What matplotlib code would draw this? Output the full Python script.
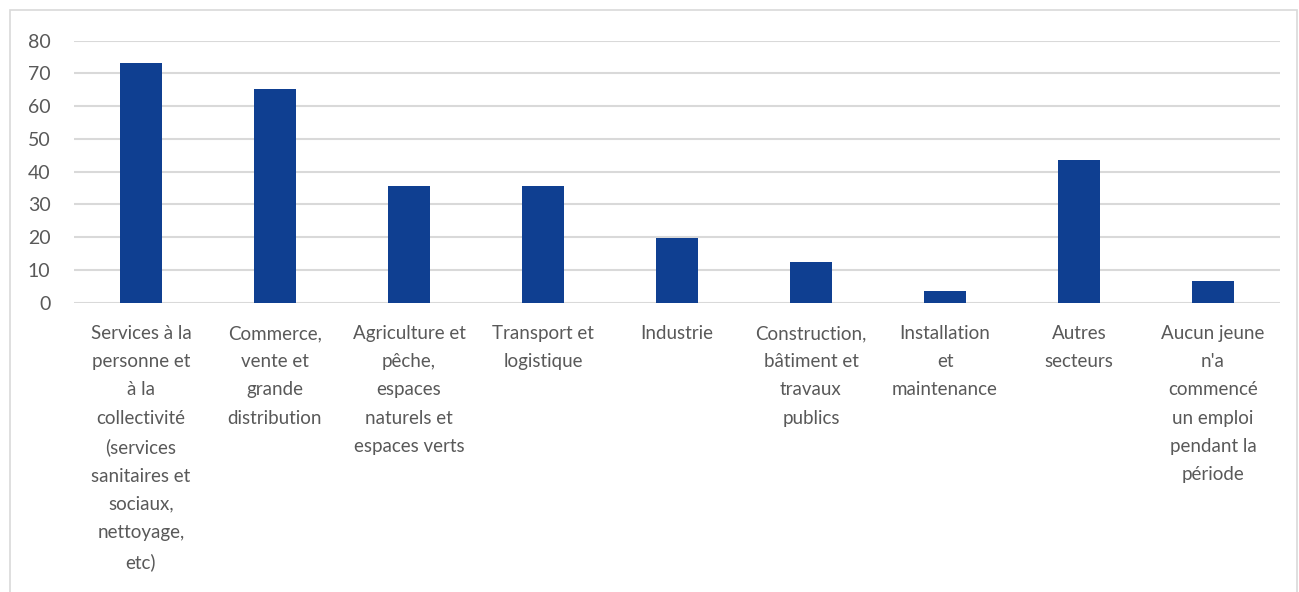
import matplotlib
matplotlib.use("Agg")
import matplotlib.pyplot as plt
from matplotlib.patches import Rectangle

# Sectors where young people started a job
categories = [
    "Services à la\npersonne et\nà la\ncollectivité\n(services\nsanitaires et\nsociaux,\nnettoyage,\netc)",
    "Commerce,\nvente et\ngrande\ndistribution",
    "Agriculture et\npêche,\nespaces\nnaturels et\nespaces verts",
    "Transport et\nlogistique",
    "Industrie",
    "Construction,\nbâtiment et\ntravaux\npublics",
    "Installation\net\nmaintenance",
    "Autres\nsecteurs",
    "Aucun jeune\nn'a\ncommencé\nun emploi\npendant la\npériode",
]
values = [73.1, 65.4, 35.7, 35.7, 19.9, 12.3, 3.5, 43.5, 6.6]
y_ticks = [0, 10, 20, 30, 40, 50, 60, 70, 80]

BAR = "#0F3F91"
GRID = "#D9D9D9"
LABEL = "#595959"

plt.rcParams["font.family"] = ["Lato", "DejaVu Sans"]

W, H = 1299, 592
fig = plt.figure(figsize=(W / 100, H / 100), dpi=100)
fig.patch.set_facecolor("white")

# thin outer frame of the chart area
fig.patches.append(Rectangle((10 / W, -0.1), (W - 12) / W, 1.1 - 10 / H,
                             transform=fig.transFigure, fill=False,
                             edgecolor=GRID, linewidth=1.2))

ax = fig.add_axes([74 / W, 1 - 302.7 / H, (1280 - 74) / W, (302.7 - 40.7) / H])
x = range(len(categories))
ax.bar(x, values, width=0.313, color=BAR, zorder=3)

ax.set_ylim(0, 80)
ax.set_xlim(-0.5, len(categories) - 0.5)
ax.set_yticks(y_ticks)
ax.yaxis.grid(True, color=GRID, linewidth=1.5, zorder=0)
ax.set_axisbelow(True)
for s in ax.spines.values():
    s.set_visible(False)

ax.tick_params(axis="y", length=0, pad=17, labelsize=14, labelcolor=LABEL)
ax.tick_params(axis="x", length=0, pad=16)
ax.set_xticks(list(x))
ax.set_xticklabels(categories, fontsize=13.5, color=LABEL,
                   linespacing=1.8, va="top", ha="center")

fig.savefig("out.png", dpi=100, facecolor="white")
